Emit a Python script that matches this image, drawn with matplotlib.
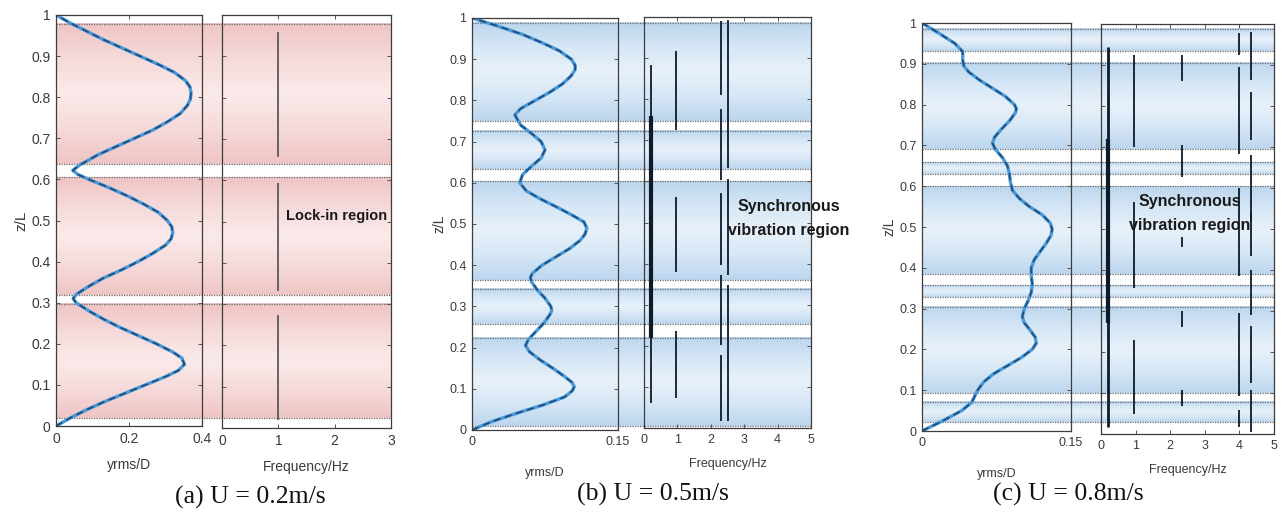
import numpy as np
import matplotlib
matplotlib.use("Agg")
import matplotlib.pyplot as plt
from matplotlib.colors import LinearSegmentedColormap

# ---------------- data ----------------
# (a) U = 0.2 m/s
a_z = [0, 0.02, 0.04, 0.06, 0.08, 0.10, 0.12, 0.135, 0.15, 0.165, 0.18, 0.2, 0.22, 0.24, 0.26, 0.28,
       0.30, 0.31,
       0.32, 0.34, 0.36, 0.38, 0.40, 0.42, 0.44, 0.455, 0.47, 0.485, 0.5, 0.52, 0.54, 0.56, 0.58,
       0.60, 0.612, 0.622,
       0.635, 0.66, 0.68, 0.7, 0.72, 0.74, 0.76, 0.78, 0.795, 0.81, 0.825, 0.84, 0.86, 0.88, 0.9,
       0.92, 0.94, 0.96, 0.98, 1.0]
a_y = [0, 0.04, 0.085, 0.135, 0.19, 0.245, 0.30, 0.335, 0.352, 0.345, 0.32, 0.275, 0.225, 0.175,
       0.13, 0.09, 0.055, 0.047,
       0.055, 0.09, 0.13, 0.18, 0.225, 0.265, 0.30, 0.315, 0.32, 0.317, 0.305, 0.28, 0.24, 0.195,
       0.145, 0.09, 0.06, 0.046,
       0.065, 0.115, 0.165, 0.215, 0.265, 0.305, 0.34, 0.36, 0.368, 0.37, 0.367, 0.355, 0.325,
       0.28, 0.23, 0.18, 0.13, 0.085, 0.04, 0]
a_bands = [(0.019, 0.297), (0.319, 0.606), (0.637, 0.978)]
a_freq_lines = [(1.0, 0.019, 0.274), (1.0, 0.331, 0.594), (1.0, 0.655, 0.960)]

# (b) U = 0.5 m/s
b_z = [0, 0.02, 0.04, 0.06, 0.08, 0.095, 0.105, 0.115, 0.13, 0.15, 0.17, 0.19, 0.205, 0.22, 0.24,
       0.26, 0.28, 0.29, 0.30, 0.32, 0.34, 0.36, 0.37, 0.38, 0.40, 0.42, 0.44, 0.46, 0.475, 0.49,
       0.505, 0.52, 0.54, 0.56, 0.58, 0.60, 0.62, 0.64, 0.66, 0.68, 0.70, 0.72, 0.74, 0.765, 0.78,
       0.80, 0.82, 0.84, 0.86, 0.875, 0.885, 0.9, 0.92, 0.94, 0.96, 0.98, 1.0]
b_y = [0, 0.02, 0.045, 0.072, 0.095, 0.103, 0.105, 0.103, 0.095, 0.083, 0.070, 0.059, 0.055, 0.058,
       0.066, 0.074, 0.080, 0.082, 0.081, 0.075, 0.067, 0.061, 0.060, 0.062, 0.072, 0.086, 0.100,
       0.111, 0.116, 0.118, 0.115, 0.104, 0.088, 0.071, 0.056, 0.049, 0.052, 0.061, 0.071, 0.075,
       0.071, 0.061, 0.050, 0.044, 0.050, 0.065, 0.080, 0.093, 0.102, 0.106, 0.106, 0.102, 0.090,
       0.072, 0.052, 0.027, 0]
b_bands = [(0.010, 0.224), (0.257, 0.342), (0.364, 0.604), (0.633, 0.726), (0.749, 0.989)]
b_freq_lines = [(0.2, 0.061, 0.883), (0.96, 0.726, 0.917), (0.96, 0.379, 0.561), (0.96, 0.074, 0.235),
                (2.32, 0.81, 0.99), (2.32, 0.603, 0.777), (2.32, 0.397, 0.572), (2.32, 0.202, 0.372),
                (2.32, 0.016, 0.178), (2.51, 0.633, 0.993), (2.51, 0.372, 0.607), (2.51, 0.016, 0.348)]
b_freq_bold = [(0.2, 0.22, 0.76)]

# (c) U = 0.8 m/s
c_z = [0, 0.025, 0.05, 0.07, 0.085, 0.1, 0.12, 0.14, 0.16, 0.18, 0.2, 0.215, 0.23, 0.25, 0.265,
       0.28, 0.3, 0.32, 0.34, 0.36, 0.38, 0.4, 0.42, 0.44, 0.46, 0.48, 0.495, 0.51, 0.53, 0.55,
       0.57, 0.59, 0.61, 0.63, 0.65, 0.67, 0.69, 0.705, 0.72, 0.74, 0.76, 0.78, 0.79, 0.80, 0.82,
       0.84, 0.86, 0.88, 0.895, 0.91, 0.93, 0.95, 0.975, 1.0]
c_y = [0, 0.021, 0.040, 0.050, 0.053, 0.056, 0.062, 0.072, 0.086, 0.100, 0.111, 0.115, 0.114,
       0.108, 0.103, 0.101, 0.103, 0.107, 0.110, 0.111, 0.110, 0.110, 0.113, 0.119, 0.125, 0.130,
       0.131, 0.129, 0.121, 0.108, 0.098, 0.091, 0.089, 0.088, 0.086, 0.081, 0.074, 0.071, 0.073,
       0.080, 0.088, 0.094, 0.095, 0.093, 0.084, 0.071, 0.058, 0.047, 0.042, 0.041, 0.041, 0.033,
       0.017, 0]
c_bands = [(0.021, 0.071), (0.093, 0.304), (0.328, 0.357), (0.386, 0.601), (0.631, 0.659),
           (0.690, 0.903), (0.931, 0.986)]
c_freq_lines = [(0.96, 0.70, 0.925), (0.96, 0.357, 0.565), (0.96, 0.05, 0.230),
                (2.35, 0.86, 0.925), (2.35, 0.627, 0.704), (2.35, 0.455, 0.48), (2.35, 0.26, 0.30),
                (2.35, 0.068, 0.107),
                (4.0, 0.925, 0.977), (4.0, 0.683, 0.896), (4.0, 0.386, 0.60), (4.0, 0.092, 0.295),
                (4.0, 0.018, 0.058),
                (4.33, 0.864, 0.98), (4.33, 0.717, 0.835), (4.33, 0.516, 0.68), (4.33, 0.435, 0.54),
                (4.33, 0.29, 0.40), (4.33, 0.124, 0.263), (4.33, 0.005, 0.107)]
c_freq_bold = [(0.21, 0.018, 0.945)]
c_freq_heavy = [(0.21, 0.27, 0.72)]

captions = ["(a) U = 0.2m/s", "(b) U = 0.5m/s", "(c) U = 0.8m/s"]
annotations = ["Lock-in region", "Synchronous\nvibration region", "Synchronous\nvibration region"]

# ---------------- layout helpers ----------------
W, H = 1286, 515
fig = plt.figure(figsize=(W / 100, H / 100), dpi=100)


def rect(x0, x1, yt, yb):
    return [x0 / W, 1 - yb / H, (x1 - x0) / W, (yb - yt) / H]


TXT = "#3a3a3a"
plt.rcParams["font.family"] = ["Liberation Sans", "DejaVu Sans"]


def band_cmap(edge, mid, center):
    return LinearSegmentedColormap.from_list("b", [edge, mid, center, mid, edge])


def draw_panel(pos, z, y, xmax, xticks, xticklabels, fmax, bands, flines, fbold, fheavy,
               cmap, line_col, caption, cap_xy, annot, annot_xy, ann_size, tick_fs, lab_pos):
    (lx0, lx1, ly0, ly1), (rx0, rx1, ry0, ry1) = pos
    # background with bands
    bg = fig.add_axes(rect(lx0, rx1, ly0, ly1), zorder=0)
    bg.set_xlim(0, 1)
    bg.set_ylim(0, 1)
    bg.axis("off")
    grad = np.linspace(0, 1, 200).reshape(-1, 1)
    for z0, z1 in bands:
        bg.imshow(grad, extent=(0, 1, z0, z1), aspect="auto", cmap=cmap,
                  origin="lower", interpolation="bilinear")
        for zz in (z0, z1):
            bg.axhline(zz, color="#6a6a6a", lw=0.9, ls=(0, (1, 1)))
    bg.set_ylim(0, 1)
    bg.set_xlim(0, 1)

    # left axis: displacement profile
    axl = fig.add_axes(rect(lx0, lx1, ly0, ly1), zorder=2)
    axl.patch.set_alpha(0)
    axl.plot(y, z, color="#4a9ad8", lw=2.4, solid_capstyle="round", solid_joinstyle="round")
    axl.plot(y, z, color="#1f4f80", lw=1.3, ls=(0, (4, 2.5)))
    axl.set_xlim(0, xmax)
    axl.set_ylim(0, 1)
    axl.set_xticks(xticks)
    axl.set_xticklabels(xticklabels)
    axl.set_yticks(np.arange(0, 1.01, 0.1))
    axl.set_yticklabels(["0"] + ["%.1f" % v for v in np.arange(0.1, 0.95, 0.1)] + ["1"])
    axl.set_xlabel("yrms/D", fontsize=tick_fs, color=TXT, labelpad=lab_pos[0])
    axl.set_ylabel("z/L", fontsize=tick_fs + 1, color=TXT, labelpad=2)

    # right axis: frequency
    axr = fig.add_axes(rect(rx0, rx1, ry0, ry1), zorder=2)
    axr.patch.set_alpha(0)
    for f, z0, z1 in flines:
        axr.vlines(f, z0, z1, color=line_col, lw=1.3)
    for f, z0, z1 in fbold:
        axr.vlines(f, z0, z1, color=line_col, lw=2.0)
    for f, z0, z1 in fheavy:
        axr.vlines(f, z0, z1, color=line_col, lw=3.0)
    axr.set_xlim(0, fmax)
    axr.set_ylim(0, 1)
    axr.set_xticks(range(0, fmax + 1))
    axr.set_yticks(np.arange(0, 1.01, 0.1))
    axr.set_yticklabels([])
    axr.set_xlabel("Frequency/Hz", fontsize=tick_fs, color=TXT, labelpad=lab_pos[1])

    for ax in (axl, axr):
        ax.tick_params(direction="in", length=3, width=0.7, colors="#555555",
                       labelcolor=TXT, labelsize=tick_fs, top=True, right=True, pad=4)
        for s in ax.spines.values():
            s.set_color("#3c3c3c")
            s.set_linewidth(0.9)

    fig.text(annot_xy[0] / W, 1 - annot_xy[1] / H, annot, fontsize=ann_size,
             fontweight="bold", color="#1a1a1a", ha="center", va="center",
             linespacing=1.75, zorder=5)
    fig.text(cap_xy[0] / W, 1 - cap_xy[1] / H, caption, fontsize=18.5,
             family=["Liberation Serif", "DejaVu Serif"], ha="center", va="center",
             color="#111111")


pink = band_cmap("#efc4c4", "#f6dada", "#fbeaea")
blue = band_cmap("#bcd6ee", "#d6e7f6", "#e8f1fa")

draw_panel(((56, 202, 15, 426), (222, 391, 15, 428)), a_z, a_y, 0.4,
           [0, 0.2, 0.4], ["0", "0.2", "0.4"], 3, a_bands, a_freq_lines, [], [],
           pink, "#5a5a5a", captions[0], (250, 497), annotations[0], (337, 216), 10.5, 10, (9, 9))
draw_panel(((472, 618, 18, 430), (644, 811, 17, 428)), b_z, b_y, 0.15,
           [0, 0.15], ["0", "0.15"], 5, b_bands, b_freq_lines, [], b_freq_bold,
           blue, "#0d1b2a", captions[1], (653, 494), annotations[1], (789, 219), 11.5, 9, (14, 9))
draw_panel(((922, 1071, 23, 431), (1101, 1274, 24, 434)), c_z, c_y, 0.15,
           [0, 0.15], ["0", "0.15"], 5, c_bands, c_freq_lines, c_freq_bold, c_freq_heavy,
           blue, "#0d1b2a", captions[2], (1068, 494), annotations[2], (1190, 213), 11.5, 9, (14, 9))

fig.savefig("out.png", dpi=100, facecolor="white")
